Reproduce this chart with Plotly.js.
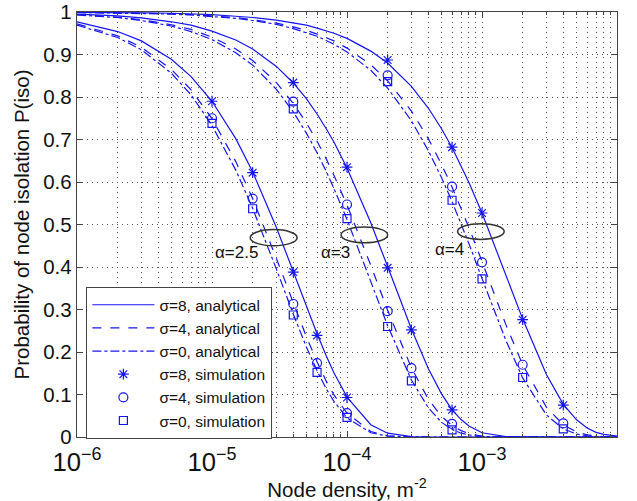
<!DOCTYPE html>
<html>
<head>
<meta charset="utf-8">
<script src="https://cdn.plot.ly/plotly-3.0.1.min.js"></script>
<style>html,body{margin:0;padding:0;background:#fff;}#chart{width:637px;height:501px;}</style>
</head>
<body>
<div id="chart"></div>
<script>
// Node density samples for analytical curves (m^-2)
const xDensity = [1e-6, 2e-6, 3e-6, 5e-6, 7e-6, 1e-5, 1.5e-5, 2e-5, 3e-5, 4e-5, 5e-5, 6e-5, 7e-5, 8e-5,
  1e-4, 1.5e-4, 2e-4, 3e-4, 4e-4, 5e-4, 6e-4, 7e-4, 8e-4, 1e-3, 1.5e-3, 2e-3, 3e-3, 4e-3, 5e-3, 6e-3, 7e-3, 8e-3, 1e-2];

// alpha = 2.5
const a25_s8 = [0.977, 0.954, 0.932, 0.889, 0.848, 0.790, 0.702, 0.624, 0.493, 0.389, 0.307, 0.243, 0.192, 0.151,
  0.094, 0.029, 0.009, 0.001, 0, 0, 0, 0, 0, 0, 0, 0, 0, 0, 0, 0, 0, 0, 0];
const a25_s4 = [0.972, 0.944, 0.917, 0.865, 0.817, 0.749, 0.648, 0.561, 0.420, 0.315, 0.236, 0.177, 0.132, 0.099,
  0.056, 0.013, 0.003, 0, 0, 0, 0, 0, 0, 0, 0, 0, 0, 0, 0, 0, 0, 0, 0];
const a25_s0 = [0.969, 0.940, 0.911, 0.856, 0.805, 0.733, 0.628, 0.538, 0.395, 0.289, 0.212, 0.156, 0.114, 0.084,
  0.045, 0.010, 0.002, 0, 0, 0, 0, 0, 0, 0, 0, 0, 0, 0, 0, 0, 0, 0, 0];
// alpha = 3
const a3_s8 = [0.995, 0.991, 0.986, 0.977, 0.969, 0.955, 0.934, 0.913, 0.872, 0.833, 0.796, 0.760, 0.726, 0.694,
  0.633, 0.504, 0.401, 0.254, 0.161, 0.102, 0.064, 0.041, 0.026, 0.010, 0.001, 0, 0, 0, 0, 0, 0, 0, 0];
const a3_s4 = [0.994, 0.988, 0.982, 0.970, 0.959, 0.941, 0.913, 0.886, 0.834, 0.785, 0.739, 0.696, 0.655, 0.616,
  0.546, 0.404, 0.298, 0.163, 0.089, 0.049, 0.027, 0.015, 0.008, 0.002, 0, 0, 0, 0, 0, 0, 0, 0, 0];
const a3_s0 = [0.993, 0.987, 0.980, 0.967, 0.954, 0.935, 0.904, 0.875, 0.818, 0.765, 0.715, 0.669, 0.626, 0.585,
  0.512, 0.366, 0.262, 0.134, 0.069, 0.035, 0.018, 0.009, 0.005, 0.001, 0, 0, 0, 0, 0, 0, 0, 0, 0];
// alpha = 4
const a4_s8 = [0.999, 0.999, 0.998, 0.997, 0.996, 0.994, 0.990, 0.987, 0.981, 0.975, 0.969, 0.962, 0.956, 0.950,
  0.938, 0.908, 0.880, 0.825, 0.774, 0.726, 0.681, 0.639, 0.599, 0.527, 0.383, 0.278, 0.147, 0.077, 0.041, 0.021, 0.011, 0.006, 0.002];
const a4_s4 = [0.999, 0.998, 0.997, 0.996, 0.994, 0.991, 0.987, 0.982, 0.974, 0.965, 0.957, 0.948, 0.940, 0.932,
  0.915, 0.876, 0.838, 0.767, 0.702, 0.642, 0.588, 0.538, 0.493, 0.413, 0.265, 0.170, 0.070, 0.029, 0.012, 0.005, 0.002, 0.001, 0];
const a4_s0 = [0.999, 0.998, 0.997, 0.995, 0.993, 0.990, 0.985, 0.980, 0.971, 0.961, 0.952, 0.943, 0.933, 0.924,
  0.906, 0.863, 0.821, 0.744, 0.674, 0.611, 0.554, 0.502, 0.455, 0.373, 0.228, 0.139, 0.052, 0.019, 0.007, 0.003, 0.001, 0, 0];

// Simulation points
const simX_a25 = [1e-5, 2e-5, 4e-5, 6e-5, 1e-4];
const sim_a25_s8 = [0.790, 0.622, 0.388, 0.239, 0.093];
const sim_a25_s4 = [0.750, 0.561, 0.313, 0.174, 0.056];
const sim_a25_s0 = [0.738, 0.537, 0.287, 0.152, 0.046];
const simX_a3 = [4e-5, 1e-4, 2e-4, 3e-4, 6e-4];
const sim_a3_s8 = [0.834, 0.635, 0.398, 0.252, 0.064];
const sim_a3_s4 = [0.789, 0.547, 0.296, 0.162, 0.031];
const sim_a3_s0 = [0.772, 0.514, 0.260, 0.132, 0.017];
const simX_a4 = [2e-4, 6e-4, 1e-3, 2e-3, 4e-3];
const sim_a4_s8 = [0.887, 0.682, 0.527, 0.276, 0.075];
const sim_a4_s4 = [0.851, 0.589, 0.411, 0.170, 0.032];
const sim_a4_s0 = [0.836, 0.557, 0.372, 0.140, 0.019];

const legendNames = ['σ=8, analytical', 'σ=4, analytical', 'σ=0, analytical',
                     'σ=8, simulation', 'σ=4, simulation', 'σ=0, simulation'];
const alphaLabels = ['α=2.5', 'α=3', 'α=4'];

const blue = '#1414f0';
const curveSets = [[a25_s8, a3_s8, a4_s8], [a25_s4, a3_s4, a4_s4], [a25_s0, a3_s0, a4_s0]];
const dashes = ['solid', 'dash', 'dashdot'];
const simXs = [simX_a25, simX_a3, simX_a4];
const simSets = [[sim_a25_s8, sim_a3_s8, sim_a4_s8], [sim_a25_s4, sim_a3_s4, sim_a4_s4], [sim_a25_s0, sim_a3_s0, sim_a4_s0]];
const symbols = ['asterisk-open', 'circle-open', 'square-open'];
const symSizes = [9, 9, 8];

const data = [];
for (let s = 0; s < 3; s++) {
  for (let g = 0; g < 3; g++) {
    data.push({
      x: xDensity, y: curveSets[s][g], type: 'scatter', mode: 'lines',
      name: legendNames[s], legendgroup: 'L' + s, showlegend: g === 0,
      line: {color: blue, width: 1.2, dash: dashes[s]}, hoverinfo: 'skip'
    });
  }
}
for (let s = 0; s < 3; s++) {
  for (let g = 0; g < 3; g++) {
    data.push({
      x: simXs[g], y: simSets[s][g], type: 'scatter', mode: 'markers',
      name: legendNames[3 + s], legendgroup: 'M' + s, showlegend: g === 0,
      marker: {symbol: symbols[s], size: symSizes[s], color: blue, line: {color: blue, width: 1.2}},
      hoverinfo: 'skip'
    });
  }
}

const ellipseColor = '#333333';
const layout = {
  width: 637, height: 501,
  margin: {l: 77, r: 20, t: 12, b: 64},
  paper_bgcolor: '#ffffff', plot_bgcolor: '#ffffff',
  font: {family: 'Liberation Sans, Arial, sans-serif', color: '#111', size: 17},
  showlegend: true,
  legend: {
    x: 0.017, y: 0.353, xanchor: 'left', yanchor: 'top',
    bgcolor: '#ffffff', bordercolor: '#444', borderwidth: 1.2,
    font: {size: 15.5, color: '#111'}, tracegroupgap: 0, itemwidth: 62
  },
  xaxis: {
    type: 'log', range: [-6, -2], dtick: 1, exponentformat: 'power',
    showline: true, linecolor: '#444', linewidth: 1.2, mirror: 'ticks',
    ticks: 'inside', ticklen: 6, tickcolor: '#444',
    showgrid: true, gridcolor: '#555', griddash: '1px,4px', gridwidth: 1,
    minor: {dtick: 'D1', ticks: 'inside', ticklen: 3, tickcolor: '#444', showgrid: true, gridcolor: '#555', griddash: '1px,4px', gridwidth: 1},
    tickfont: {size: 20.5}, ticklabelstandoff: 3,
    title: {text: 'Node density, m<sup>-2</sup>', font: {size: 20.5}, standoff: 10},
    zeroline: false, automargin: false, fixedrange: true
  },
  yaxis: {
    range: [0, 1], dtick: 0.1,
    showline: true, linecolor: '#444', linewidth: 1.2, mirror: 'ticks',
    ticks: 'inside', ticklen: 6, tickcolor: '#444',
    showgrid: true, gridcolor: '#555', griddash: '1px,4px', gridwidth: 1,
    tickfont: {size: 20.5}, ticklabelstandoff: 0,
    title: {text: 'Probability of node isolation P(iso)', font: {size: 20.5}, standoff: 8},
    zeroline: false, automargin: false, fixedrange: true
  },
  shapes: [
    {type: 'circle', xref: 'x', yref: 'y', x0: 1.92e-5, x1: 4.27e-5, y0: 0.450, y1: 0.488, line: {color: ellipseColor, width: 1.5}},
    {type: 'circle', xref: 'x', yref: 'y', x0: 9.04e-5, x1: 2.0e-4, y0: 0.457, y1: 0.494, line: {color: ellipseColor, width: 1.5}},
    {type: 'circle', xref: 'x', yref: 'y', x0: 6.59e-4, x1: 1.46e-3, y0: 0.465, y1: 0.502, line: {color: ellipseColor, width: 1.5}}
  ],
  annotations: [
    {x: -4.816, y: 0.434, xref: 'x', yref: 'y', text: alphaLabels[0], showarrow: false, font: {size: 17}},
    {x: -4.087, y: 0.434, xref: 'x', yref: 'y', text: alphaLabels[1], showarrow: false, font: {size: 17}},
    {x: -3.242, y: 0.441, xref: 'x', yref: 'y', text: alphaLabels[2], showarrow: false, font: {size: 17}}
  ]
};

Plotly.newPlot('chart', data, layout, {displayModeBar: false, staticPlot: true});
</script>
</body>
</html>
